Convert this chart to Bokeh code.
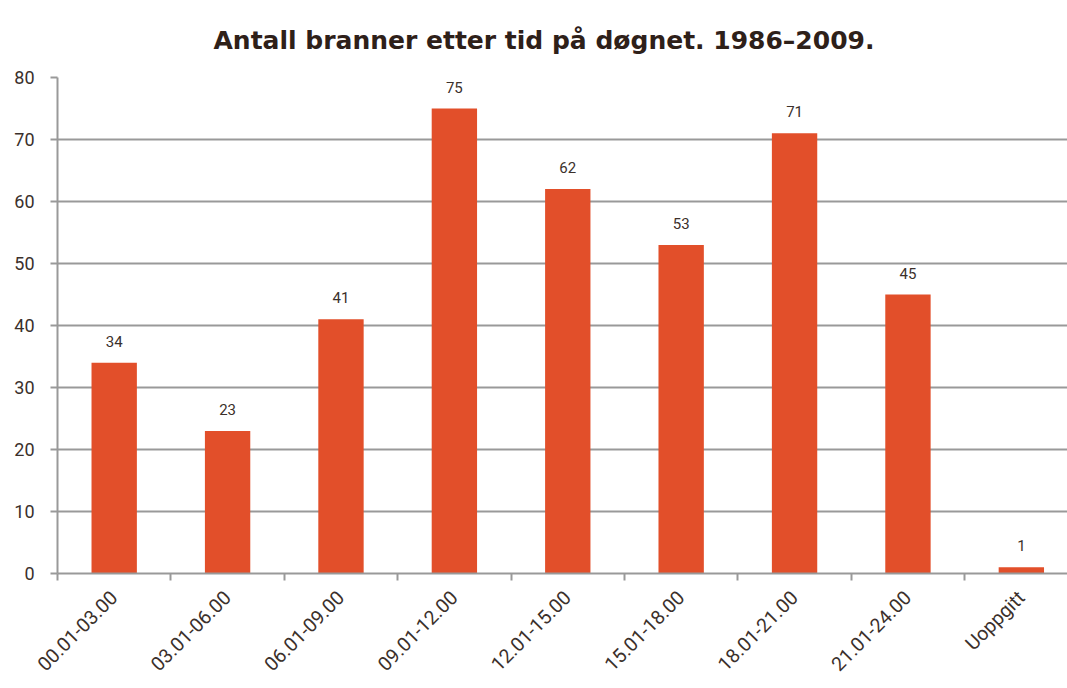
import math
from bokeh.plotting import figure
from bokeh.models import Range1d, FixedTicker, ColumnDataSource, LabelSet
from bokeh.core.properties import value
from bokeh.embed import file_html
from bokeh.resources import INLINE

categories = ["00.01-03.00", "03.01-06.00", "06.01-09.00", "09.01-12.00",
              "12.01-15.00", "15.01-18.00", "18.01-21.00", "21.01-24.00", "Uoppgitt"]
values = [34, 23, 41, 75, 62, 53, 71, 45, 1]
y_ticks = [0, 10, 20, 30, 40, 50, 60, 70, 80]

centers = [i + 0.5 for i in range(len(categories))]
src = ColumnDataSource(dict(x=centers, top=values, lab=[str(v) for v in values]))

TEXT = "#3b302b"
GRID = "#999999"
BAR = "#e24f2a"

p = figure(width=1067, height=688, output_backend="svg", toolbar_location=None,
           x_range=Range1d(0, 8.907), y_range=Range1d(0, 80),
           min_border_left=57, min_border_right=0, min_border_top=77, min_border_bottom=115,
           title="Antall branner etter tid på døgnet. 1986–2009.")
p.outline_line_color = None
p.background_fill_color = "white"
p.border_fill_color = "white"

p.title.text_font = "DejaVu Sans"
p.title.text_font_style = "bold"
p.title.text_font_size = "25px"
p.title.text_color = "#2e2019"
p.title.align = "left"
p.title.vertical_align = "top"
p.title.offset = 156
p.title.standoff = 42

p.vbar(x="x", top="top", width=0.4, source=src, fill_color=BAR, line_color=None)

labels = LabelSet(x="x", y="top", text="lab", source=src, text_align="center",
                  text_baseline="bottom", y_offset=16, text_font=value("Roboto"),
                  text_font_size=value("15px"), text_color=TEXT)
p.add_layout(labels)

p.yaxis.ticker = FixedTicker(ticks=y_ticks)
p.yaxis.axis_line_color = GRID
p.yaxis.axis_line_width = 2
p.yaxis.major_tick_line_color = GRID
p.yaxis.major_tick_line_width = 2
p.yaxis.major_tick_out = 7
p.yaxis.major_tick_in = 0
p.yaxis.minor_tick_line_color = None
p.yaxis.major_label_text_font = "Roboto"
p.yaxis.major_label_text_font_size = "18px"
p.yaxis.major_label_text_color = TEXT
p.yaxis.major_label_standoff = 16

p.ygrid.grid_line_color = GRID
p.ygrid.grid_line_width = 2
p.xgrid.grid_line_color = None

p.xaxis.ticker = FixedTicker(ticks=centers, minor_ticks=list(range(len(categories) + 1)))
p.xaxis.major_label_overrides = {c: cat for c, cat in zip(centers, categories)}
p.xaxis.axis_line_color = GRID
p.xaxis.axis_line_width = 2
p.xaxis.major_tick_line_color = None
p.xaxis.minor_tick_line_color = GRID
p.xaxis.minor_tick_line_width = 2
p.xaxis.minor_tick_out = 7
p.xaxis.minor_tick_in = 0
p.xaxis.major_label_orientation = math.pi / 4
p.xaxis.major_label_text_font = "Roboto"
p.xaxis.major_label_text_font_size = "19.5px"
p.xaxis.major_label_text_color = TEXT
p.xaxis.major_label_standoff = 14

open("out.html", "w").write(file_html(p, INLINE))
